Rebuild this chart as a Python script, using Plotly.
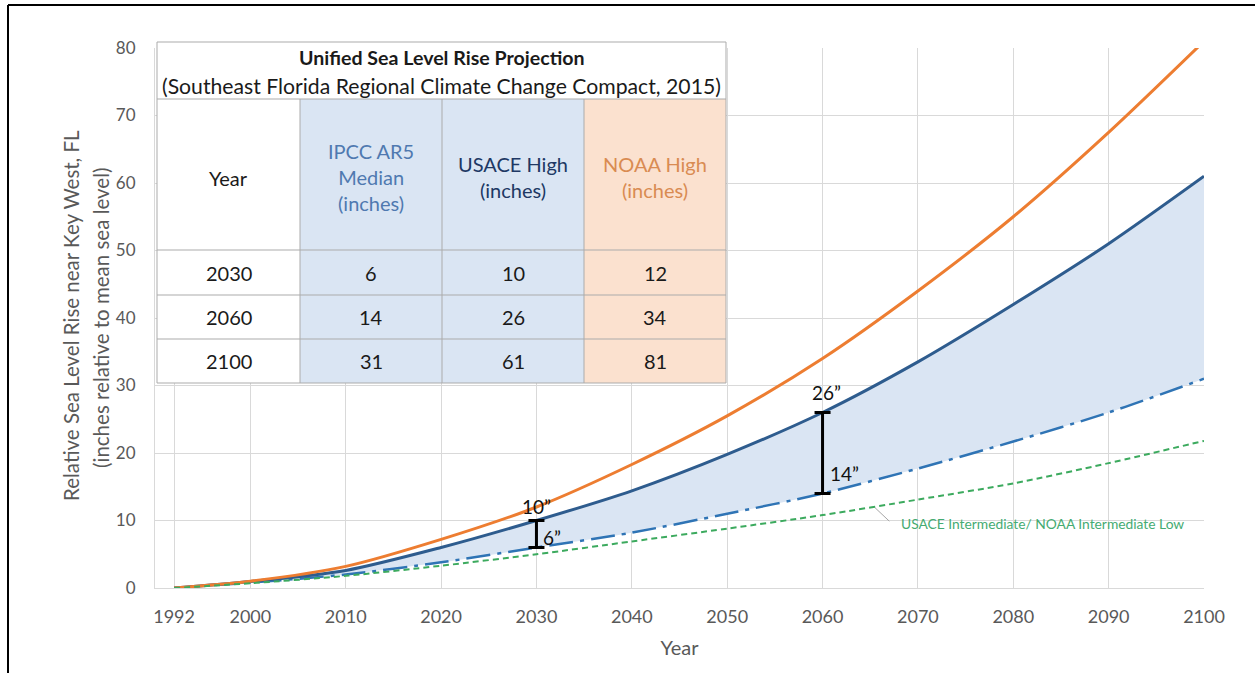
import plotly.graph_objects as go

# ---------------- data ----------------
years = [1992, 2000, 2010, 2020, 2030, 2040, 2050, 2060, 2070, 2080, 2090, 2100]
noaa_high = [0, 1.0, 3.2, 7.2, 12, 18.3, 25.5, 34, 44, 55, 67.5, 81]
usace_high = [0, 0.95, 2.6, 6.0, 10, 14.4, 19.8, 26, 33.5, 42, 51, 61]
ipcc_median = [0, 0.8, 2.0, 3.8, 6, 8.2, 11, 14, 17.7, 21.7, 26, 31]
usace_intermediate = [0, 0.7, 1.8, 3.3, 5, 6.9, 8.8, 10.8, 13.1, 15.5, 18.5, 21.8]

xtick_vals = [1992, 2000, 2010, 2020, 2030, 2040, 2050, 2060, 2070, 2080, 2090, 2100]
ytick_vals = [0, 10, 20, 30, 40, 50, 60, 70, 80]

table_years = [2030, 2060, 2100]
table_ipcc = [6, 14, 31]
table_usace = [10, 26, 61]
table_noaa = [12, 34, 81]

# ---------------- geometry helpers ----------------
W, H = 1255, 673
L, R, T, B = 155, 1204, 48, 588


def px(x):
    return (x - L) / (R - L)


def py(y):
    return (B - y) / (B - T)


FONT = "Lato"
GRAY = "#595959"
BLUE_FILL = "#dae5f3"
ORANGE_FILL = "#fbe1cf"

fig = go.Figure()

# IPCC median (dash-dot)
fig.add_trace(go.Scatter(
    x=years, y=ipcc_median, mode="lines", name="IPCC AR5 Median",
    line=dict(color="#2f74b5", width=2.5, dash="24px,7px,4px,7px", shape="spline", smoothing=0.8),
    hoverinfo="skip", showlegend=False))
# USACE high with fill to IPCC
fig.add_trace(go.Scatter(
    x=years, y=usace_high, mode="lines", name="USACE High",
    line=dict(color="#2e5c8e", width=3, shape="spline", smoothing=0.8),
    fill="tonexty", fillcolor=BLUE_FILL,
    hoverinfo="skip", showlegend=False))
# NOAA high
fig.add_trace(go.Scatter(
    x=years, y=noaa_high, mode="lines", name="NOAA High",
    line=dict(color="#ed7d31", width=3, shape="spline", smoothing=0.8),
    hoverinfo="skip", showlegend=False))
# USACE intermediate
fig.add_trace(go.Scatter(
    x=years, y=usace_intermediate, mode="lines", name="USACE Intermediate",
    line=dict(color="#3caa5e", width=2, dash="6px,4px", shape="spline", smoothing=0.8),
    hoverinfo="skip", showlegend=False))

# I-beam ranges at 2030 and 2060
bar_years = [table_years[0], table_years[1]]
lo = [table_ipcc[0], table_ipcc[1]]
hi = [table_usace[0], table_usace[1]]
mid = [(a + b) / 2 for a, b in zip(lo, hi)]
half = [(b - a) / 2 for a, b in zip(lo, hi)]
fig.add_trace(go.Scatter(
    x=bar_years, y=mid, mode="markers", marker=dict(size=0.1, color="black", opacity=0),
    error_y=dict(type="data", array=half, symmetric=True, width=8, thickness=3, color="black"),
    hoverinfo="skip", showlegend=False))

annotations = []
shapes = []

# range labels
for xv, v, xs, ys in [(2030, hi[0], 0, 1), (2060, hi[1], 4, 7)]:
    annotations.append(dict(x=xv, y=v, xref="x", yref="y", text=f"{v}\u201d", showarrow=False,
                            xanchor="center", yanchor="bottom", xshift=xs, yshift=ys,
                            font=dict(family=FONT, size=19, color="#111111")))
for xv, v, ys in [(2030, lo[0], 10), (2060, lo[1], 20)]:
    annotations.append(dict(x=xv, y=v, xref="x", yref="y", text=f"{v}\u201d", showarrow=False,
                            xanchor="left", yanchor="middle", xshift=5, yshift=ys,
                            font=dict(family=FONT, size=19, color="#111111")))

# green label with leader
annotations.append(dict(x=2068.0, y=9.6, xref="x", yref="y",
                        text="USACE Intermediate/ NOAA Intermediate Low", showarrow=False,
                        xanchor="left", yanchor="middle",
                        font=dict(family=FONT, size=13.8, color="#45ab72")))
shapes.append(dict(type="line", xref="x", yref="y", x0=2065.5, y0=11.9, x1=2067.0, y1=9.9,
                   line=dict(color="#a6a6a6", width=1)))

# y-axis title (two lines as rotated text)
annotations.append(dict(x=px(71), y=py(316), xref="paper", yref="paper", textangle=-90,
                        text="Relative Sea Level Rise near Key West, FL", showarrow=False,
                        xanchor="center", yanchor="middle",
                        font=dict(family=FONT, size=20.5, color=GRAY)))
annotations.append(dict(x=px(101), y=py(318), xref="paper", yref="paper", textangle=-90,
                        text="(inches relative to mean sea level)", showarrow=False,
                        xanchor="center", yanchor="middle",
                        font=dict(family=FONT, size=20.5, color=GRAY)))

# ---------------- table ----------------
tl, tr = 157, 726
col_x = [157, 300, 442, 584, 726]
row_y = [42, 99, 250, 295, 339, 383]
tb_line = "#ababab"

shapes.append(dict(type="rect", xref="paper", yref="paper", x0=px(tl), x1=px(tr),
                   y0=py(row_y[-1]), y1=py(row_y[0]), fillcolor="white",
                   line=dict(width=0), layer="above"))
shapes.append(dict(type="rect", xref="paper", yref="paper", x0=px(col_x[1]), x1=px(col_x[3]),
                   y0=py(row_y[-1]), y1=py(row_y[1]), fillcolor=BLUE_FILL,
                   line=dict(width=0), layer="above"))
shapes.append(dict(type="rect", xref="paper", yref="paper", x0=px(col_x[3]), x1=px(col_x[4]),
                   y0=py(row_y[-1]), y1=py(row_y[1]), fillcolor=ORANGE_FILL,
                   line=dict(width=0), layer="above"))
for yy in row_y:
    shapes.append(dict(type="line", xref="paper", yref="paper", x0=px(tl), x1=px(tr),
                       y0=py(yy), y1=py(yy), line=dict(color=tb_line, width=1), layer="above"))
for xx in (tl, tr):
    shapes.append(dict(type="line", xref="paper", yref="paper", x0=px(xx), x1=px(xx),
                       y0=py(row_y[-1]), y1=py(row_y[0]), line=dict(color=tb_line, width=1),
                       layer="above"))
for cx in col_x[1:4]:
    shapes.append(dict(type="line", xref="paper", yref="paper", x0=px(cx), x1=px(cx),
                       y0=py(row_y[-1]), y1=py(row_y[1]), line=dict(color=tb_line, width=1),
                       layer="above"))

cx_mid = [(col_x[i] + col_x[i + 1]) / 2 for i in range(4)]


def tab_text(x, y, text, size=20, color="#1a1a1a", bold=False):
    if bold:
        text = f"<b>{text}</b>"
    annotations.append(dict(x=px(x), y=py(y), xref="paper", yref="paper", text=text,
                            showarrow=False, xanchor="center", yanchor="middle",
                            font=dict(family=FONT, size=size, color=color)))


tab_text((tl + tr) / 2, 58, "Unified Sea Level Rise Projection", size=19.6, bold=True)
tab_text((tl + tr) / 2, 86, "(Southeast Florida Regional Climate Change Compact, 2015)", size=21.2)
tab_text(cx_mid[0], 178, "Year", size=20)
tab_text(cx_mid[1], 177, "IPCC AR5<br>Median<br>(inches)", size=20, color="#4f79b0")
tab_text(cx_mid[2], 177, "USACE High<br>(inches)", size=20, color="#203864")
tab_text(cx_mid[3], 177, "NOAA High<br>(inches)", size=20, color="#d98b52")

row_c = [(row_y[i] + row_y[i + 1]) / 2 for i in range(2, 5)]
for i, yr in enumerate(table_years):
    tab_text(cx_mid[0], row_c[i], str(yr))
    tab_text(cx_mid[1], row_c[i], str(table_ipcc[i]))
    tab_text(cx_mid[2], row_c[i], str(table_usace[i]))
    tab_text(cx_mid[3], row_c[i], str(table_noaa[i]))

# outer frame (left and top)
shapes.append(dict(type="line", xref="paper", yref="paper", x0=px(8), x1=px(8),
                   y0=py(H + 5), y1=py(5), line=dict(color="black", width=2)))
shapes.append(dict(type="line", xref="paper", yref="paper", x0=px(8), x1=px(W + 5),
                   y0=py(5), y1=py(5), line=dict(color="black", width=2)))

fig.update_layout(
    width=W, height=H,
    margin=dict(l=L, r=W - R, t=T, b=H - B),
    paper_bgcolor="white", plot_bgcolor="white",
    font=dict(family=FONT, color=GRAY),
    annotations=annotations, shapes=shapes,
    xaxis=dict(range=[1990, 2100], tickvals=xtick_vals, ticktext=[str(v) for v in xtick_vals],
               showgrid=True, gridcolor="#d9d9d9", gridwidth=1, zeroline=False,
               showline=True, linecolor="#d9d9d9", ticks="", ticklabelstandoff=12,
               tickfont=dict(family=FONT, size=18, color=GRAY),
               title=dict(text="Year", font=dict(family=FONT, size=20, color=GRAY), standoff=15)),
    yaxis=dict(range=[0, 80], tickvals=ytick_vals, showgrid=True, gridcolor="#d9d9d9",
               gridwidth=1, zeroline=False, showline=True, linecolor="#d9d9d9", ticks="",
               ticklabelstandoff=15,
               tickfont=dict(family=FONT, size=17, color=GRAY)),
)

fig.write_html("out.html", config={"displayModeBar": False},
               post_script="document.body.style.margin='0';")
